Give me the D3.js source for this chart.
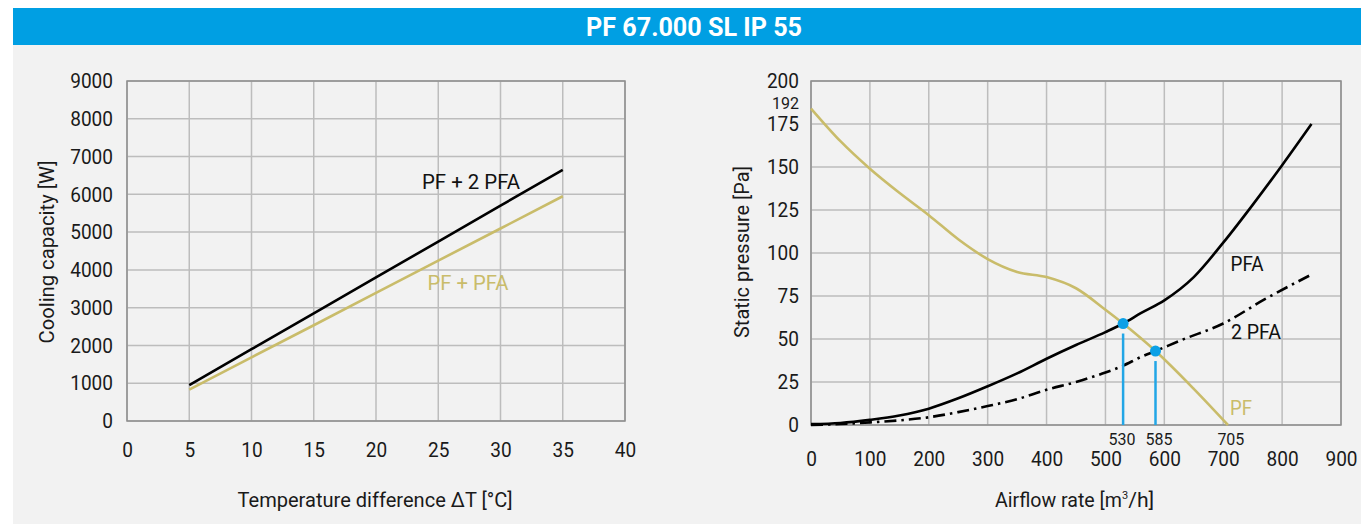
<!DOCTYPE html>
<html><head><meta charset="utf-8">
<script src="https://cdn.jsdelivr.net/npm/d3@7"></script>
<style>
html,body{margin:0;padding:0;background:#fff;}
svg{display:block;}
</style></head>
<body>
<svg id="chart" width="1361" height="524"></svg>
<script>
// ---------- DATA ----------
const title = "PF 67.000 SL IP 55";

// Left chart: cooling capacity vs temperature difference
const deltaT = [5, 10, 15, 20, 25, 30, 35];
const capPF2PFA = [950, 1900, 2850, 3800, 4750, 5700, 6650];
const capPFPFA = [830, 1685, 2535, 3390, 4245, 5095, 5950];
const leftXTicks = [0, 5, 10, 15, 20, 25, 30, 35, 40];
const leftYTicks = [0, 1000, 2000, 3000, 4000, 5000, 6000, 7000, 8000, 9000];

// Right chart: static pressure vs airflow
const flowPF = [0, 50, 100, 150, 200, 250, 300, 350, 400, 450, 500, 530, 585, 650, 708];
const pressPF = [184, 165, 149, 135, 122, 108, 96.5, 89, 86, 79.5, 67, 59, 43, 21, 0];
const flowPFA = [0, 50, 100, 150, 200, 250, 300, 350, 400, 450, 500, 530, 560, 600, 650, 700, 750, 800, 850];
const pressPFA = [0.5, 1.2, 3, 5.5, 9.5, 15.5, 22.5, 30, 38.5, 46.5, 54, 59, 65, 72.5, 86, 106, 128, 151, 175];
const flow2PFA = [0, 50, 100, 150, 200, 250, 300, 350, 400, 450, 500, 530, 560, 585, 630, 700, 770, 850];
const press2PFA = [0, 0.6, 1.5, 2.7, 4.5, 7.5, 11, 15, 20.5, 25, 30.5, 34.5, 39.5, 43, 49.5, 59, 73, 87.5];
const rightXTicks = [0, 100, 200, 300, 400, 500, 600, 700, 800, 900];
const rightYTicks = [0, 25, 50, 75, 100, 125, 150, 175, 200];
const opFlow = [530, 585];
const opPress = [59, 43];
const opLabels = ["530", "585", "705"];
const opLabelFlow = [528, 591, 713];
const maxPressLabel = "192";

// ---------- STYLE ----------
const FONT = "Roboto, 'Liberation Sans', sans-serif";
const BLUE = "#009fe3";
const GOLD = "#c9bc6a";
const GRID = "#bdbdbd";
const FRAME = "#8e8e8e";
const BG = "#f2f2f2";
const TXT = "#1a1a1a";

const svg = d3.select("#chart");
svg.append("rect").attr("x", 13).attr("y", 8).attr("width", 1348).attr("height", 516).attr("fill", BG);
svg.append("rect").attr("x", 13).attr("y", 8).attr("width", 1348).attr("height", 37).attr("fill", BLUE);
svg.append("text").attr("x", 694).attr("y", 27).attr("dy", "0.36em")
  .attr("text-anchor", "middle").attr("fill", "#fff")
  .attr("font-family", FONT).attr("font-weight", "bold").attr("font-size", 25)
  .attr("textLength", 216).attr("lengthAdjust", "spacingAndGlyphs")
  .text(title);

// condensed text helper: fixed width per character
function condense(sel, perChar) {
  sel.each(function () {
    const t = d3.select(this);
    t.attr("textLength", t.text().length * perChar).attr("lengthAdjust", "spacingAndGlyphs");
  });
}

function panel(cfg) {
  const x = d3.scaleLinear().domain(cfg.xDomain).range([cfg.x0, cfg.x1]);
  const y = d3.scaleLinear().domain(cfg.yDomain).range([cfg.y0, cfg.y1]);
  const g = svg.append("g");
  g.append("g").selectAll("line").data(cfg.xTicks).join("line")
    .attr("x1", d => x(d)).attr("x2", d => x(d)).attr("y1", cfg.y0).attr("y2", cfg.y1)
    .attr("stroke", GRID).attr("stroke-width", 1.5);
  g.append("g").selectAll("line").data(cfg.yTicks).join("line")
    .attr("y1", d => y(d)).attr("y2", d => y(d)).attr("x1", cfg.x0).attr("x2", cfg.x1)
    .attr("stroke", GRID).attr("stroke-width", 1.5);
  g.append("rect").attr("x", cfg.x0).attr("y", cfg.y1)
    .attr("width", cfg.x1 - cfg.x0).attr("height", cfg.y0 - cfg.y1)
    .attr("fill", "none").attr("stroke", FRAME).attr("stroke-width", 1.5);
  const ax = g.append("g").attr("transform", `translate(0,${cfg.y0})`)
    .call(d3.axisBottom(x).tickValues(cfg.xTicks).tickSize(0).tickPadding(cfg.xPad).tickFormat(d3.format("d")));
  const ay = g.append("g").attr("transform", `translate(${cfg.x0},0)`)
    .call(d3.axisLeft(y).tickValues(cfg.yTicks).tickSize(0).tickPadding(cfg.yPad).tickFormat(d3.format("d")));
  [ax, ay].forEach(a => {
    a.select(".domain").remove();
    a.selectAll("text").attr("font-family", FONT).attr("font-size", 21).attr("fill", TXT);
    condense(a.selectAll("text"), 10.7);
  });
  const xt = g.append("text").attr("x", cfg.xTitleX).attr("y", 500).attr("dy", "0.35em")
    .attr("text-anchor", cfg.xTitleAnchor || "middle").attr("font-family", FONT).attr("font-size", 20).attr("fill", TXT);
  cfg.xTitleParts.forEach(p => {
    const ts = xt.append("tspan").text(p.t);
    if (p.sup) ts.attr("font-size", 11).attr("dy", -8);
    if (p.down) ts.attr("dy", 8);
    if (p.len) ts.attr("textLength", p.len).attr("lengthAdjust", "spacingAndGlyphs");
  });
  g.append("text").attr("transform", `translate(${cfg.yTitleX},252) rotate(-90)`).attr("dy", "0.35em")
    .attr("text-anchor", "middle").attr("font-family", FONT).attr("font-size", 20).attr("fill", TXT)
    .attr("textLength", cfg.yTitleLen).attr("lengthAdjust", "spacingAndGlyphs")
    .text(cfg.yTitle);
  return {x, y, g};
}

// ---------- LEFT ----------
const L = panel({
  xDomain: [0, 40], yDomain: [0, 9000], x0: 127, x1: 625, y0: 421, y1: 81,
  xTicks: leftXTicks, yTicks: leftYTicks, xPad: 21, yPad: 14,
  xTitleParts: [{t: "Temperature difference ΔT [°C]", len: 275}], xTitleX: 375,
  yTitle: "Cooling capacity [W]", yTitleX: 47, yTitleLen: 183
});
const lineL = d3.line().x(d => L.x(d[0])).y(d => L.y(d[1]));
L.g.append("path").datum(deltaT.map((t, i) => [t, capPFPFA[i]]))
  .attr("d", lineL).attr("fill", "none").attr("stroke", GOLD).attr("stroke-width", 2.6);
L.g.append("path").datum(deltaT.map((t, i) => [t, capPF2PFA[i]]))
  .attr("d", lineL).attr("fill", "none").attr("stroke", "#000").attr("stroke-width", 2.6);
L.g.append("text").attr("x", 471).attr("y", 182).attr("dy", "0.35em").attr("text-anchor", "middle")
  .attr("font-family", FONT).attr("font-size", 21).attr("fill", "#111")
  .attr("textLength", 98).attr("lengthAdjust", "spacingAndGlyphs").text("PF + 2 PFA");
L.g.append("text").attr("x", 468).attr("y", 283).attr("dy", "0.35em").attr("text-anchor", "middle")
  .attr("font-family", FONT).attr("font-size", 21).attr("fill", GOLD)
  .attr("textLength", 81).attr("lengthAdjust", "spacingAndGlyphs").text("PF + PFA");

// ---------- RIGHT ----------
const R = panel({
  xDomain: [0, 900], yDomain: [0, 200], x0: 811, x1: 1341, y0: 425, y1: 81,
  xTicks: rightXTicks, yTicks: rightYTicks, xPad: 26, yPad: 12,
  xTitleParts: [{t: "Airflow rate [m", len: 127}, {t: "3", sup: true}, {t: "/h]", down: true, len: 26}],
  xTitleX: 995, xTitleAnchor: "start",
  yTitle: "Static pressure [Pa]", yTitleX: 742, yTitleLen: 172
});
const curve = d3.line().x(d => R.x(d[0])).y(d => R.y(d[1])).curve(d3.curveMonotoneX);
R.g.append("path").datum(flowPF.map((f, i) => [f, pressPF[i]]))
  .attr("d", curve).attr("fill", "none").attr("stroke", GOLD).attr("stroke-width", 2.6);
R.g.append("path").datum(flowPFA.map((f, i) => [f, pressPFA[i]]))
  .attr("d", curve).attr("fill", "none").attr("stroke", "#000").attr("stroke-width", 2.6);
R.g.append("path").datum(flow2PFA.map((f, i) => [f, press2PFA[i]]))
  .attr("d", curve).attr("fill", "none").attr("stroke", "#000").attr("stroke-width", 2.6)
  .attr("stroke-dasharray", "12,5,2.5,5");
R.g.selectAll(".vl").data(opFlow).join("line")
  .attr("x1", d => R.x(d)).attr("x2", d => R.x(d))
  .attr("y1", (d, i) => R.y(opPress[i]) + 10).attr("y2", R.y(0))
  .attr("stroke", "#22a6e6").attr("stroke-width", 2.5);
R.g.selectAll(".dot").data(opFlow).join("circle")
  .attr("cx", d => R.x(d)).attr("cy", (d, i) => R.y(opPress[i])).attr("r", 5.5)
  .attr("fill", "#0ba0e6");
const opl = R.g.selectAll(".opl").data(opLabels).join("text")
  .attr("x", (d, i) => R.x(opLabelFlow[i])).attr("y", 439).attr("dy", "0.35em").attr("text-anchor", "middle")
  .attr("font-family", FONT).attr("font-size", 17).attr("fill", TXT).text(d => d);
condense(opl, 9);
const ml = R.g.append("text").attr("x", 799).attr("y", 103).attr("dy", "0.35em").attr("text-anchor", "end")
  .attr("font-family", FONT).attr("font-size", 17).attr("fill", TXT).text(maxPressLabel);
condense(ml, 9);
const lab = (x, y, t, c, w) => R.g.append("text").attr("x", x).attr("y", y).attr("dy", "0.35em")
  .attr("text-anchor", "middle").attr("font-family", FONT).attr("font-size", 21).attr("fill", c)
  .attr("textLength", w).attr("lengthAdjust", "spacingAndGlyphs").text(t);
lab(1247, 264, "PFA", "#111", 33);
lab(1256, 332, "2 PFA", "#111", 50);
lab(1241, 408, "PF", GOLD, 22);
</script>
</body></html>
